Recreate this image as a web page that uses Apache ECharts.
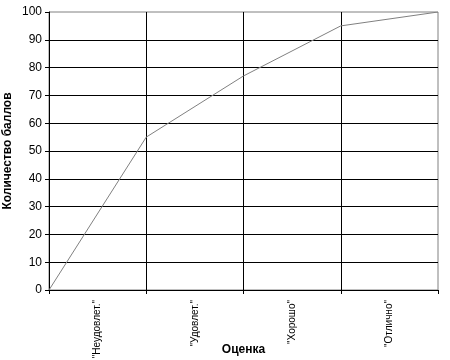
<!DOCTYPE html>
<html><head><meta charset="utf-8">
<script src="https://cdn.jsdelivr.net/npm/echarts@6/dist/echarts.min.js"></script>
<style>html,body{margin:0;padding:0;background:#fff}#c{width:450px;height:360px}</style>
</head><body><div id="c"></div>
<script>
const categories = ['"Неудовлет."', '"Удовлет."', '"Хорошо"', '"Отлично"'];
const boundaryX = [0, 1, 2, 3, 4];
const values = [0, 55, 77, 95, 100];
const yTitle = 'Количество баллов';
const xTitle = 'Оценка';

const F = 'Liberation Sans, Arial, sans-serif';
const chart = echarts.init(document.getElementById('c'), null, {renderer: 'canvas'});
chart.setOption({
  animation: false,
  backgroundColor: '#fff',
  grid: {left: 49, right: 12, top: 12, bottom: 70, show: true, borderColor: '#808080', borderWidth: 1,
         containLabel: false, outerBoundsMode: 'none'},
  xAxis: [{
    type: 'value', min: 0, max: 4, interval: 1,
    axisLine: {show: true, onZero: false, lineStyle: {color: '#000', width: 1}},
    axisTick: {show: true, inside: false, length: 4, lineStyle: {color: '#000'}},
    axisLabel: {show: false},
    splitLine: {show: true, showMinLine: false, showMaxLine: false, lineStyle: {color: '#000', width: 1}}
  }, {
    type: 'category', position: 'bottom', data: categories, boundaryGap: true,
    axisLine: {show: false}, axisTick: {show: false}, splitLine: {show: false},
    axisLabel: {rotate: 90, fontFamily: F, fontSize: 10, color: '#000', margin: 10},
    name: xTitle, nameLocation: 'middle', nameGap: 54, nameMoveOverlap: false,
    nameTextStyle: {fontFamily: F, fontSize: 12, fontWeight: 'bold', color: '#000'}
  }],
  yAxis: {
    type: 'value', min: 0, max: 100, interval: 10,
    axisLine: {show: true, lineStyle: {color: '#000', width: 1}},
    axisTick: {show: true, length: 4, lineStyle: {color: '#000'}},
    axisLabel: {fontFamily: F, fontSize: 12, color: '#000', margin: 7},
    splitLine: {show: true, showMinLine: false, showMaxLine: false, lineStyle: {color: '#000', width: 1}},
    name: yTitle, nameLocation: 'middle', nameGap: 35, nameMoveOverlap: false,
    nameTextStyle: {fontFamily: F, fontSize: 12, fontWeight: 'bold', color: '#000'}
  },
  series: [{
    type: 'line', xAxisIndex: 0,
    data: boundaryX.map((x, i) => [x, values[i]]),
    showSymbol: false, symbol: 'none',
    lineStyle: {color: '#808080', width: 1}
  }]
});
</script></body></html>
